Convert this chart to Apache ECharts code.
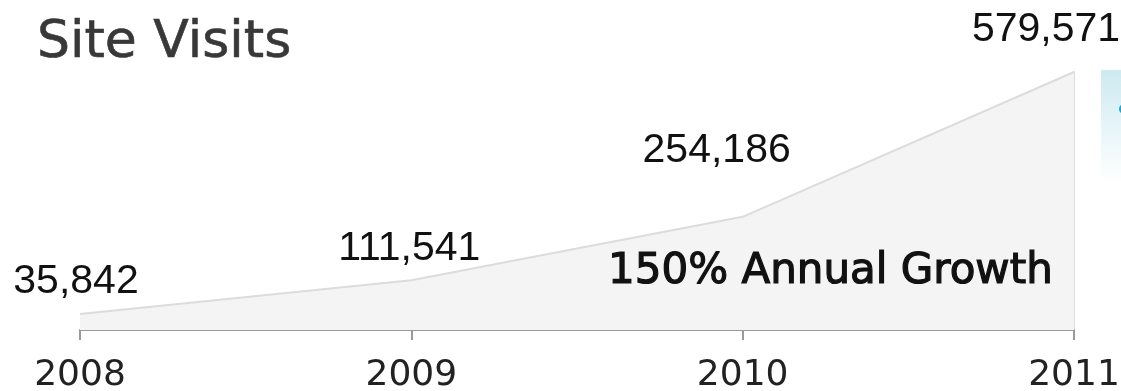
<!DOCTYPE html>
<html><head><meta charset="utf-8">
<script src="https://cdn.jsdelivr.net/npm/echarts@6/dist/echarts.min.js"></script>
<style>html,body{margin:0;padding:0;background:#fff}#c{width:1121px;height:391px}</style>
</head><body><div id="c"></div>
<script>
const years = ['2008', '2009', '2010', '2011'];
const visits = [35842, 111541, 254186, 579571];
const labelOffsets = [[-4, -32], [-2, -32], [-26, -66], [-28, -42]];
const titleText = 'Site Visits';
const growthText = '150% Annual Growth';

const chart = echarts.init(document.getElementById('c'));
chart.setOption({
  animation: false,
  title: [
    { text: titleText, left: 32, top: 12, textStyle: { fontFamily: 'DejaVu Sans', fontWeight: 'normal', fontSize: 52, color: '#383838', textBorderColor: '#383838', textBorderWidth: 0.6 } },
    { text: growthText, left: 603, top: 246, textStyle: { fontFamily: 'DejaVu Sans', fontWeight: 'normal', fontSize: 42, color: '#111', textBorderColor: '#111', textBorderWidth: 1.2 } }
  ],
  grid: { left: 80, right: 47, top: 72, bottom: 61, containLabel: false, outerBoundsMode: 'none' },
  xAxis: {
    type: 'category', data: years, boundaryGap: false,
    axisLine: { lineStyle: { color: '#9a9a9a', width: 2 } },
    axisTick: { show: true, length: 10, alignWithLabel: true, lineStyle: { color: '#9a9a9a', width: 2 } },
    axisLabel: { fontFamily: 'DejaVu Sans', fontSize: 36, color: '#222', margin: 28, hideOverlap: false }
  },
  yAxis: {
    type: 'value', min: 0, max: 579571, position: 'right',
    axisLine: { show: true, lineStyle: { color: '#dcdcdc', width: 2 } },
    axisTick: { show: false }, axisLabel: { show: false }, splitLine: { show: false }
  },
  series: [{
    type: 'line', data: visits.map((v, i) => ({ value: v, label: { offset: labelOffsets[i] } })),
    symbol: 'circle', symbolSize: 1, showSymbol: true, itemStyle: { color: 'rgba(0,0,0,0)' }, z: 1,
    lineStyle: { color: '#dcdcdc', width: 2 },
    areaStyle: { color: '#f4f4f4', opacity: 1 },
    label: {
      show: true, position: 'inside',
      fontFamily: 'Liberation Sans', fontSize: 41, color: '#111',
      formatter: p => p.value.toLocaleString('en-US')
    }
  }],
  graphic: [
    { type: 'rect', shape: { x: 1101, y: 70, width: 20, height: 112 },
      style: { fill: new echarts.graphic.LinearGradient(0, 0, 0, 1, [{ offset: 0, color: '#cdeaf1' }, { offset: 1, color: '#ffffff' }]) } },
    { type: 'circle', shape: { cx: 1124, cy: 109, r: 5 }, style: { fill: '#1aa6cf' } }
  ]
});
</script></body></html>
